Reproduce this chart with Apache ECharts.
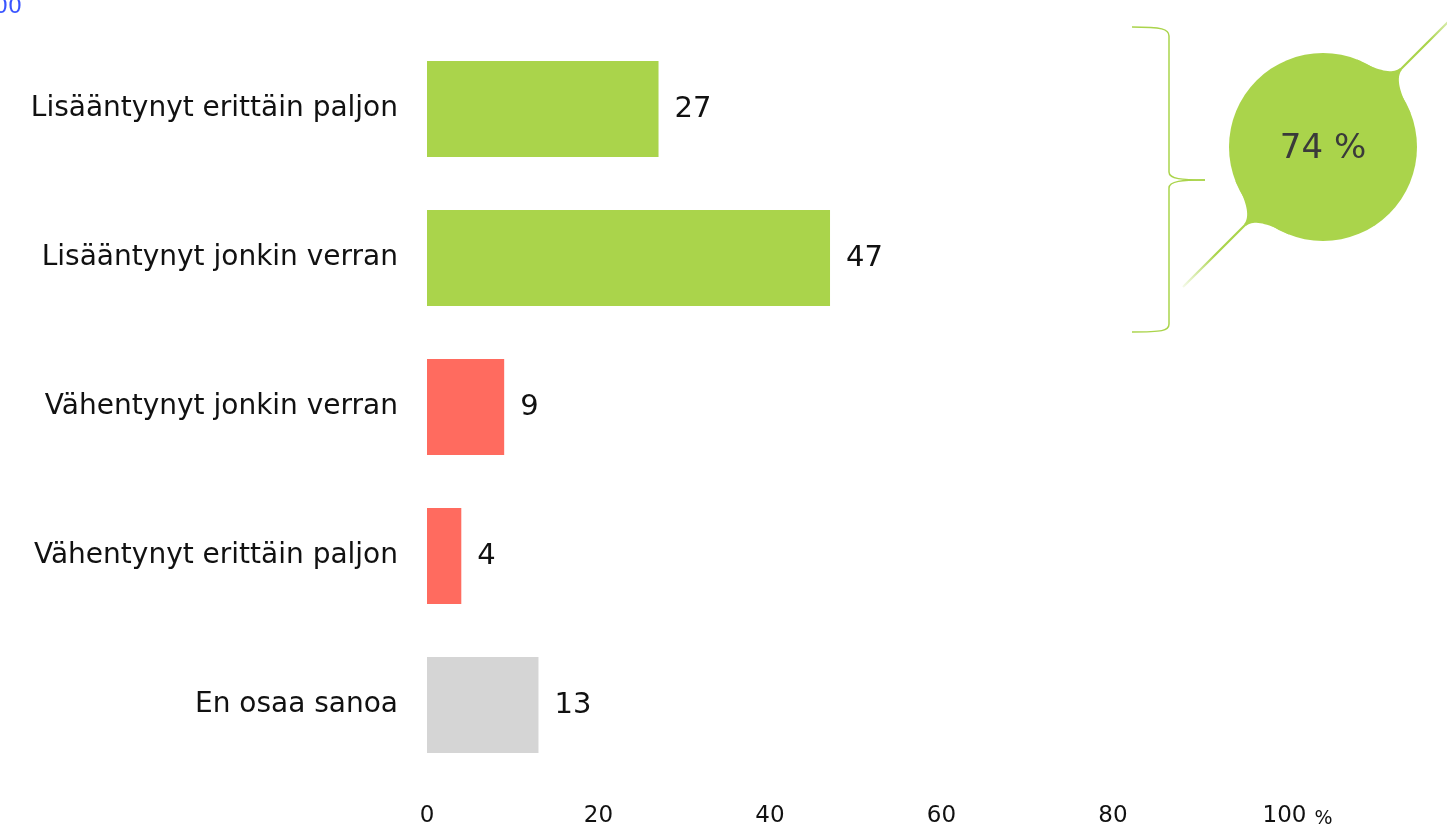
<!DOCTYPE html>
<html><head><meta charset="utf-8">
<script src="https://cdn.jsdelivr.net/npm/echarts@6/dist/echarts.min.js"></script>
<style>html,body{margin:0;padding:0;background:#fff}#c{width:1447px;height:829px}</style>
</head><body><div id="c"></div>
<script>
const categories = ["Lisääntynyt erittäin paljon","Lisääntynyt jonkin verran","Vähentynyt jonkin verran","Vähentynyt erittäin paljon","En osaa sanoa"];
const values = [27, 47, 9, 4, 13];
const barColors = ["#aad44b","#aad44b","#ff6b5f","#ff6b5f","#d5d5d5"];
const axisTicks = [0, 20, 40, 60, 80, 100];
const summaryIdx = [0, 1];
const summaryValue = summaryIdx.reduce((s,i)=>s+values[i],0);

const FONT = "DejaVu Sans";
const green = "#aad44b";
const chart = echarts.init(document.getElementById('c'));

// bubble geometry (decoration)
const cx = 1323, cy = 147, R = 94;
function filletShape(){
  const a = 24*Math.PI/180;
  const side = (sign)=>{
    const p0 = [R*Math.cos(a), sign*R*Math.sin(a)];
    const c = [R+2, sign*3];
    const p1 = [R+16, sign*1.3];
    const pts = [];
    for(let i=0;i<=20;i++){
      const t=i/20;
      pts.push([(1-t)*(1-t)*p0[0]+2*(1-t)*t*c[0]+t*t*p1[0],(1-t)*(1-t)*p0[1]+2*(1-t)*t*c[1]+t*t*p1[1]]);
    }
    return pts;
  };
  const top = side(-1), bot = side(1).reverse();
  return [[R-10,0]].concat(top, bot);
}
function tailGroup(rot, len){
  return {
    type:'group', x:cx, y:cy, rotation:rot, silent:true,
    children:[
      {type:'polygon', shape:{points:filletShape()}, style:{fill:green}},
      {type:'line', shape:{x1:R+12,y1:0,x2:R+len,y2:0},
       style:{lineWidth:2.2, stroke:{type:'linear',x:0,y:0,x2:1,y2:0,colorStops:[{offset:0,color:green},{offset:0.5,color:green},{offset:1,color:'rgba(170,212,75,0.08)'}]}}}
    ]
  };
}
const braceStyle = {stroke:green, lineWidth:1.5, fill:null};

chart.setOption({
  animation:false,
  grid:{left:427, right:1447-1284.5, top:34.5, bottom:829-779.5, containLabel:false},
  xAxis:{
    type:'value', min:0, max:100, interval:20,
    splitLine:{show:false}, axisLine:{show:false}, axisTick:{show:false},
    axisLabel:{
      margin:25, color:'#111', fontFamily:FONT, fontSize:23,
      formatter:v=> v===100 ? '{h|}'+v+'{p|%}' : String(v),
      rich:{h:{width:26}, p:{width:26, fontSize:19, align:'right', fontFamily:FONT, color:'#111', padding:[5,0,0,0]}}
    }
  },
  yAxis:{
    type:'category', data:categories, inverse:true,
    axisLine:{show:false}, axisTick:{show:false},
    axisLabel:{margin:29, color:'#111', fontFamily:FONT, fontSize:28}
  },
  series:[{
    type:'bar', barCategoryGap:'35.5%',
    data: values.map((v,i)=>({value:v, itemStyle:{color:barColors[i]}})),
    label:{show:true, position:'right', distance:16, color:'#111', fontFamily:FONT, fontSize:29}
  }],
  graphic:[
    {type:'text', x:22, y:-4, style:{text:'100', textAlign:'right', fill:'#3a55ff', font:'22px '+FONT}},
    tailGroup(Math.PI/4, 100),
    tailGroup(5*Math.PI/4, 104),
    {type:'circle', shape:{cx:cx, cy:cy, r:R}, style:{fill:green}},
    {type:'text', x:cx, y:cy+2, style:{text:summaryValue+' %', textAlign:'center', textVerticalAlign:'middle', fill:'#3a3a3a', font:'34px '+FONT}},
    {type:'bezierCurve', shape:{x1:1132,y1:27,cpx1:1162,cpy1:27,cpx2:1169,cpy2:29,x2:1169,y2:36}, style:braceStyle},
    {type:'line', shape:{x1:1169,y1:36,x2:1169,y2:172}, style:braceStyle},
    {type:'bezierCurve', shape:{x1:1169,y1:172,cpx1:1169,cpy1:179,cpx2:1182,cpy2:180,x2:1205,y2:180}, style:braceStyle},
    {type:'bezierCurve', shape:{x1:1205,y1:180,cpx1:1182,cpy1:180,cpx2:1169,cpy2:181,x2:1169,y2:188}, style:braceStyle},
    {type:'line', shape:{x1:1169,y1:188,x2:1169,y2:324}, style:braceStyle},
    {type:'bezierCurve', shape:{x1:1169,y1:324,cpx1:1169,cpy1:331,cpx2:1162,cpy2:332,x2:1132,y2:332}, style:braceStyle}
  ]
});
</script></body></html>
